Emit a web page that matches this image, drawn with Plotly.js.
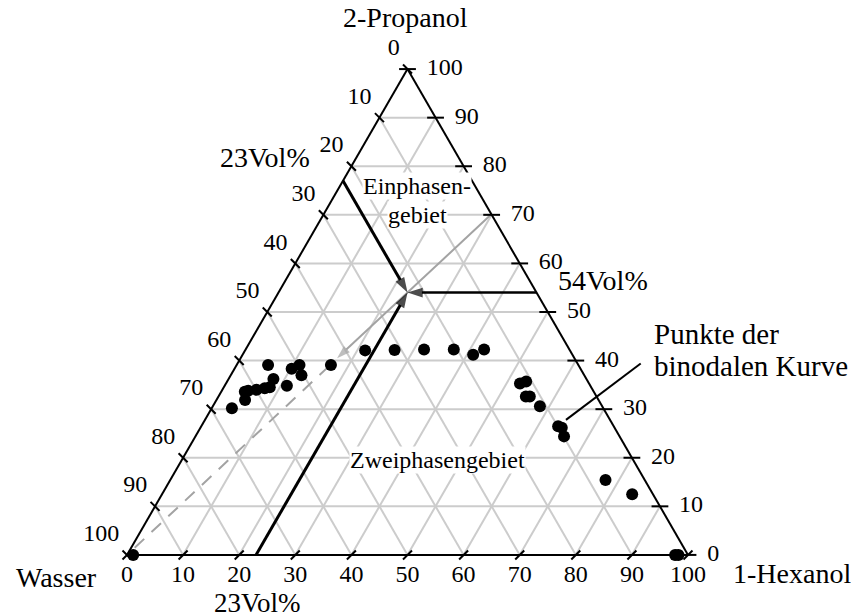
<!DOCTYPE html>
<html><head><meta charset="utf-8">
<script src="https://cdn.plot.ly/plotly-3.0.1.min.js"></script>
<style>html,body{margin:0;padding:0;background:#fff}</style>
</head><body>
<div id="chart" style="width:851px;height:616px"></div>
<script>
// Binodal curve points (Vol%)
const propanol = [0, 0, 0, 30.2, 31.9, 33.6, 33.8, 34.0, 34.3, 34.5, 36.2, 34.8, 39.1, 38.3, 39.1, 37.0, 39.1, 42.1, 42.2, 42.3, 42.3, 41.2, 42.3, 35.3, 35.7, 32.6, 32.6, 30.6, 26.5, 26.2, 24.4, 15.4, 12.5];
const wasser   = [98.9, 2.3, 1.7, 66.2, 63.0, 62.2, 61.5, 59.9, 58.3, 57.3, 55.8, 54.1, 55.3, 51.5, 49.7, 50.4, 44.1, 36.5, 31.2, 25.9, 20.6, 17.7, 15.2, 12.3, 11.0, 12.6, 11.9, 11.1, 9.9, 9.4, 9.9, 7.0, 3.7];
const hexanol  = [1.1, 97.7, 98.3, 3.6, 5.1, 4.2, 4.7, 6.1, 7.4, 8.2, 8.0, 11.1, 5.6, 10.2, 11.2, 12.6, 16.8, 21.4, 26.6, 31.8, 37.1, 41.1, 42.5, 52.4, 53.3, 54.8, 55.5, 58.3, 63.6, 64.4, 65.7, 77.6, 83.8];

// Guide lines towards the mixture point (54 / 23 / 23 Vol%)
const hexLineP = [0, 54],  hexLineW = [77, 23], hexLineH = [23, 23];
const watLineP = [77, 54], watLineW = [23, 23], watLineH = [0, 23];
const proLineP = [54, 54], proLineW = [0, 23],  proLineH = [46, 23];
// Dilution line (gray)
const dilSolidP = [70.1, 40.5], dilSolidW = [0, 42.3],  dilSolidH = [29.9, 17.2];
const dilDashP  = [38.9, 0],    dilDashW  = [44.6, 100], dilDashH  = [16.6, 0];

// Scale values (same for all three components)
const scaleVals = [0, 10, 20, 30, 40, 50, 60, 70, 80, 90, 100];
const scaleText = scaleVals.map(String);
const zeros = scaleVals.map(() => 0);
const complement = scaleVals.map(v => 100 - v);

const FONT = 'Liberation Serif, Times New Roman, serif';
const TICKFONT = {family: FONT, size: 24, color: 'black'};

function arrowLine(p, w, h, color, width, dash, head) {
  const t = {
    type: 'scatterternary', mode: head ? 'lines+markers' : 'lines',
    a: p, b: w, c: h, hoverinfo: 'skip', cliponaxis: false,
    line: {color: color, width: width, dash: dash || 'solid'}
  };
  if (head) t.marker = {symbol: 'arrow', angleref: 'previous', size: [0, head], color: color, line: {width: 0}};
  return t;
}

function labelTrace(a, b, c, pos, pad) {
  return {
    type: 'scatterternary', mode: 'markers+text', a: a, b: b, c: c,
    text: scaleText, textposition: pos, textfont: TICKFONT,
    marker: {size: pad, color: 'rgba(0,0,0,0)', line: {width: 0}},
    hoverinfo: 'skip', cliponaxis: false
  };
}

function tickTrace(a, b, c, symbol, size) {
  return {
    type: 'scatterternary', mode: 'markers', a: a, b: b, c: c,
    marker: {symbol: symbol, size: size, color: 'black', line: {color: 'black', width: 2}},
    hoverinfo: 'skip', cliponaxis: false
  };
}

const traces = [
  arrowLine(dilDashP, dilDashW, dilDashH, '#a3a3a3', 2, '13px,10px', 0),
  arrowLine(dilSolidP, dilSolidW, dilSolidH, '#a3a3a3', 2, 'solid', 14),
  arrowLine(hexLineP, hexLineW, hexLineH, 'black', 3, 'solid', 16),
  arrowLine(watLineP, watLineW, watLineH, 'black', 3, 'solid', 16),
  arrowLine(proLineP, proLineW, proLineH, 'black', 2.5, 'solid', 16),
  {
    type: 'scatterternary', mode: 'markers', a: propanol, b: wasser, c: hexanol,
    marker: {color: 'black', size: 12, line: {width: 0}}, name: 'Punkte der binodalen Kurve',
    cliponaxis: false
  },
  // tick marks: Wasser (left edge), 2-Propanol (right edge), 1-Hexanol (bottom edge)
  tickTrace(complement, scaleVals, zeros, 'line-nw', 9),
  tickTrace(scaleVals, zeros, complement, 'line-ew', 12),
  tickTrace(zeros, complement, scaleVals, 'line-ne', 9),
  // tick labels
  labelTrace(complement, scaleVals, zeros, 'top left', 11),
  labelTrace(scaleVals, zeros, complement, 'middle right', 29),
  labelTrace(zeros, complement, scaleVals, 'bottom center', 13)
];

function axis() {
  return {
    title: {text: ''},
    min: 0, tickmode: 'array', tickvals: scaleVals, showticklabels: false,
    linecolor: 'black', linewidth: 2, showline: true,
    gridcolor: '#cccccc', gridwidth: 2, showgrid: true,
    ticks: ''
  };
}

function note(text, x, y, size, extra) {
  return Object.assign({xref: 'paper', yref: 'paper', x: x, y: y, text: text, showarrow: false,
    xanchor: 'center', yanchor: 'middle', font: {family: FONT, size: size, color: 'black'}}, extra || {});
}

const layout = {
  width: 851, height: 616,
  margin: {l: 127, r: 163, t: 69, b: 61},
  paper_bgcolor: 'white', plot_bgcolor: 'white',
  showlegend: false,
  font: {family: FONT, color: 'black'},
  ternary: {
    sum: 100, bgcolor: 'white', domain: {x: [0, 1], y: [0, 1]},
    aaxis: axis(), baxis: axis(), caxis: axis()
  },
  annotations: [
    note('2-Propanol', 0.4973, 1.105, 28),
    note('Wasser', -0.1248, -0.0473, 28),
    note('1-Hexanol', 1.1854, -0.0373, 28),
    note('Einphasen-', 0.5169, 0.7593, 24, {bgcolor: 'white', borderpad: 0}),
    note('gebiet', 0.5187, 0.6996, 24, {bgcolor: 'white', borderpad: 0}),
    note('Zweiphasengebiet', 0.5526, 0.1955, 24, {bgcolor: 'white', borderpad: 0}),
    note('23Vol%', 0.246, 0.8169, 28),
    note('23Vol%', 0.2335, -0.0975, 27, {height: 25, borderpad: 0}),
    note('54Vol%', 0.8485, 0.5648, 28),
    note('Punkte der', 0.9358, 0.4547, 29, {xanchor: 'left'}),
    note('binodalen Kurve', 0.9358, 0.3889, 29, {xanchor: 'left'})
  ],
  shapes: [
    {type: 'line', xref: 'paper', yref: 'paper', x0: 0.7825, y0: 0.278, x1: 0.9157, y1: 0.394,
     line: {color: 'black', width: 2}}
  ]
};

Plotly.newPlot('chart', traces, layout, {displayModeBar: false, staticPlot: true});
</script>
</body></html>
